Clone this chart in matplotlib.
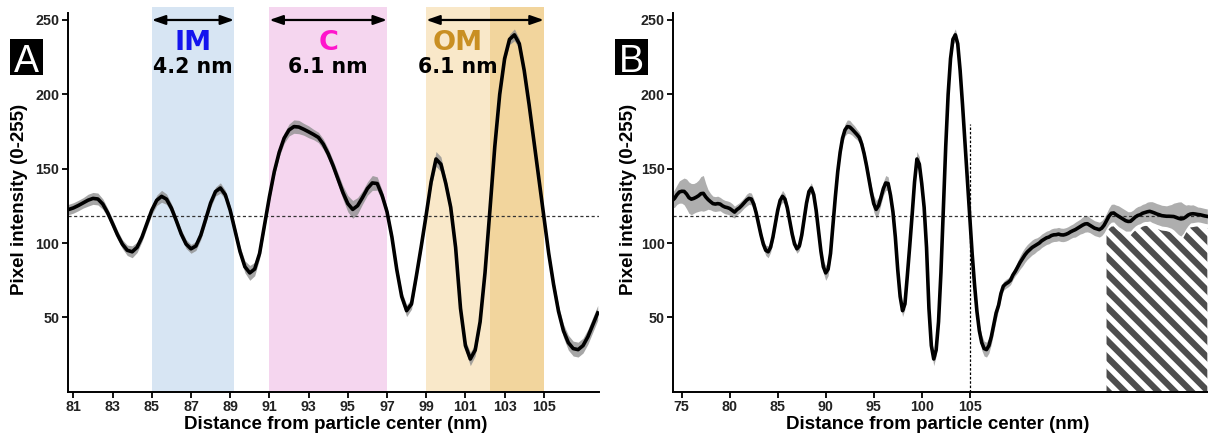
import numpy as np
import matplotlib
matplotlib.use('Agg')
import matplotlib.pyplot as plt
from matplotlib.patches import Rectangle

plt.rcParams['font.family'] = ['Liberation Sans', 'DejaVu Sans']
plt.rcParams['hatch.linewidth'] = 4.5

# intensity profile, window used in panel A (0.25 nm steps)
x_a = np.arange(80.75, 107.76, 0.25)
y_a = [122.5,
       123.6, 125.2, 127.0, 128.8,
       130.0, 129.6, 126.2, 120.3,
       113.0, 105.5, 99.2, 95.1,
       94.1, 97.1, 104.0, 113.1,
       122.1, 128.7, 131.4, 129.5,
       123.5, 115.0, 106.1, 99.3,
       96.1, 98.0, 105.3, 116.0,
       126.9, 134.6, 137.0, 132.5,
       122.0, 108.2, 94.3, 84.0,
       79.9, 82.5, 93.0, 112.0,
       131.0, 148.0, 161.0, 170.5,
       176.0, 178.3, 178.0, 176.5,
       174.8, 173.0, 171.0, 166.5,
       160.0, 152.0, 143.0, 134.0,
       126.5, 122.6, 125.1, 130.6,
       136.6, 140.4, 140.0, 132.0,
       121.0, 104.0, 82.0, 64.0,
       54.5, 59.0, 78.0, 98.0,
       119.0, 141.0, 156.5, 153.0,
       140.0, 124.0, 97.0, 56.0,
       31.0, 22.0, 28.0, 47.0,
       80.0, 122.0, 165.0, 200.0,
       224.0, 237.0, 240.0, 234.0,
       216.0, 193.0, 168.0, 143.0,
       118.0, 93.0, 72.0, 54.0,
       41.0, 33.0, 29.0, 28.3,
       31.0, 37.0, 45.0, 53.0]
sd_a = [3.5,
        3.5, 3.5, 3.5, 4,
        4, 4, 3.5, 3,
        3, 3, 3, 3.5,
        4, 3.5, 3, 3,
        3, 3.5, 4, 3.5,
        3, 3, 3, 3,
        3, 3, 3, 3,
        3, 3, 3.5, 3,
        3, 3, 3.5, 4,
        5, 4.5, 3.5, 3,
        3, 3, 3, 3.5,
        4, 4.5, 4.5, 4,
        4, 3.5, 3.5, 3.5,
        3.5, 3.5, 4, 4.5,
        5.5, 6, 5.5, 4.5,
        4.5, 5, 4.5, 3.5,
        3, 3, 3, 3.5,
        4, 3.5, 3, 3,
        3, 3.5, 5, 5,
        3.5, 3, 3, 3,
        3.5, 4.5, 4, 3,
        3, 3, 3, 3,
        3, 3.5, 4, 3.5,
        3, 3, 3, 3,
        3, 3, 3.5, 4,
        4.5, 5, 5, 5,
        5, 5, 5, 5]

# extra parts of the full profile shown in panel B
x_left = np.arange(74.0, 80.51, 0.25)
y_left = [128.5, 130.0, 132.5, 134.3,
          134.8, 134.7, 133.0, 130.5,
          129.5, 130.0, 130.8, 131.8,
          133.2, 133.4, 131.0, 129.2,
          127.8, 126.5, 126.2, 126.5,
          126.2, 125.0, 124.2, 123.8,
          123.2, 122.0, 120.8]
sd_left = [5, 6, 6.5, 7.5,
           8, 9, 10, 10.5,
           10.5, 10, 10, 10.5,
           11.5, 12, 9, 6.5,
           5.5, 5, 5, 5,
           4.5, 4.5, 4.5, 4.5,
           4.5, 4.5, 4]
x_right = np.arange(108.0, 129.76, 0.25)
y_right = [58.0, 66.0, 71.0, 72.5,
           73.5, 75.0, 78.5, 81.0,
           84.0, 87.0, 89.5, 92.0,
           94.0, 95.5, 97.0, 98.0,
           99.0, 100.0, 101.5, 102.5,
           103.5, 104.0, 105.0, 105.5,
           105.6, 106.0, 105.5, 105.4,
           105.8, 106.5, 107.5, 108.3,
           109.0, 110.0, 111.0, 112.0,
           112.8, 113.0, 112.0, 111.0,
           110.0, 109.5, 109.0, 110.0,
           112.0, 115.0, 118.0, 120.0,
           120.2, 119.0, 118.0, 117.0,
           116.0, 115.0, 114.5, 114.6,
           116.0, 117.5, 118.5, 119.0,
           120.0, 120.5, 121.0, 121.3,
           120.8, 120.2, 119.5, 119.0,
           118.4, 118.2, 118.0, 118.0,
           117.9, 117.8, 117.2, 116.6,
           116.2, 116.5, 117.5, 118.8,
           119.5, 119.7, 119.5, 119.2,
           119.0, 118.6, 118.2, 117.9]
sd_right = [3, 3, 3, 3, 3, 3, 3, 3,
            4, 4.5, 5, 5, 5, 5, 5, 5, 4.5, 4.5, 4.5, 4.5,
            4.5, 4.5, 4.5, 4.5, 4.5, 4.5, 4.5, 4.5, 4.5, 4.5, 4.5, 4.5,
            5, 5, 5, 5.5, 5.5, 5.5, 5, 5, 5, 5, 5, 5,
            5, 5, 5.5, 6, 6, 6.5, 7, 7, 7, 7, 6.5, 6.5,
            6, 6, 6, 6, 6, 6, 6.5, 6.5, 7, 7, 7, 7,
            7, 7, 7, 7.5, 8, 9, 10, 11, 11.5, 10, 8, 7,
            6, 6, 5.5, 5, 5, 5, 5, 5]

baseline = 118          # background intensity
cutoff_x = 105
cutoff_top = 180
hatch_start = 119.2

layers = ['IM', 'C', 'OM']
layer_lo = [85.0, 91.0, 99.0]
layer_hi = [89.2, 97.0, 105.0]
layer_nm = ['4.2 nm', '6.1 nm', '6.1 nm']
label_x = [87.1, 94.0, 100.6]
om_dark_lo = 102.25

band_colors = ['#d7e5f3', '#f5d6ef', '#f9e8c9']
label_colors = ['#1414ee', '#ff14cc', '#c98f22']

y_ticks = [50, 100, 150, 200, 250]
x_ticks_a = [81, 83, 85, 87, 89, 91, 93, 95, 97, 99, 101, 103, 105]
x_ticks_b = [75, 80, 85, 90, 95, 100, 105]

W, H = 1208, 441
fig = plt.figure(figsize=(W / 100, H / 100), dpi=100)
narrow = ['Liberation Sans Narrow', 'Liberation Sans', 'DejaVu Sans']


def style_axes(ax):
    for s in ['top', 'right']:
        ax.spines[s].set_visible(False)
    for s in ['left', 'bottom']:
        ax.spines[s].set_linewidth(1.4)
    ax.spines['left'].set_bounds(0, 254.5)
    ax.set_ylim(0, 259)
    ax.set_yticks(y_ticks)
    ax.tick_params(direction='out', length=4, width=1.3, pad=2,
                   labelsize=10.3, labelcolor='#222222')
    for lab in ax.get_xticklabels() + ax.get_yticklabels():
        lab.set_fontweight('bold')


def label_axes(ax, xl, yl):
    lab_font = dict(family=narrow, fontsize=13.5, fontweight='bold')
    ax.set_xlabel('Distance from particle center (nm)', **lab_font)
    ax.set_ylabel('Pixel intensity (0-255)', **lab_font)
    ax.xaxis.set_label_coords(xl, -0.064)
    ax.yaxis.set_label_coords(yl, 0.5)


# ---------------- panel A ----------------
axA = fig.add_axes([67.7 / W, 1 - 391.7 / H, 531 / W, 385.1 / H])
axA.set_xlim(80.71, 107.8)
for lo, hi, c in zip(layer_lo, layer_hi, band_colors):
    axA.axvspan(lo, hi, color=c, lw=0, zorder=0)
axA.axvspan(om_dark_lo, layer_hi[2], color='#f2d59d', lw=0, zorder=0)

ya = np.array(y_a)
sa = np.array(sd_a)
axA.fill_between(x_a, ya - sa, ya + sa, color='#909090', alpha=0.8, lw=0, zorder=2)
axA.plot(x_a, ya, color='black', lw=2.6, zorder=3, solid_joinstyle='round')
axA.axhline(baseline, color='#333333', lw=0.9, ls=(0, (2.5, 2)), zorder=2.5)

for lo, hi, name, nm, lx, c in zip(layer_lo, layer_hi, layers, layer_nm, label_x, label_colors):
    axA.annotate('', xy=(hi, 250), xytext=(lo, 250),
                 arrowprops=dict(arrowstyle='<|-|>,head_length=0.8,head_width=0.28',
                                 color='black', lw=1.6, shrinkA=0, shrinkB=0))
    axA.text(lx, 229.9, name, color=c, fontsize=19.5, fontweight='bold',
             family='DejaVu Sans', ha='center', va='baseline', zorder=4)
    axA.text(lx, 214.1, nm, color='black', fontsize=14.8, fontweight='bold',
             family='DejaVu Sans', ha='center', va='baseline', zorder=4)

axA.set_xticks(x_ticks_a)
style_axes(axA)
label_axes(axA, 0.504, -0.075)

# ---------------- panel B ----------------
axB = fig.add_axes([673.3 / W, 1 - 391.7 / H, 534.5 / W, 385.1 / H])
axB.set_xlim(74.12, 129.8)

x_b = np.concatenate([x_left, x_a, x_right])
y_b = np.concatenate([y_left, y_a, y_right])
s_b = np.concatenate([sd_left, sd_a, sd_right])

axB.fill_between(x_b, 0, y_b - s_b - 3, where=x_b >= hatch_start,
                 facecolor='white', edgecolor='#4d4d4d', hatch='\\\\', lw=0, zorder=1)
axB.fill_between(x_b, y_b - s_b, y_b + s_b, color='#9a9a9a', alpha=0.8, lw=0, zorder=2)
axB.plot(x_b, y_b, color='black', lw=2.6, zorder=3, solid_joinstyle='round')
axB.axhline(baseline, color='#333333', lw=0.9, ls=(0, (2.5, 2)), zorder=2.5)
axB.vlines(cutoff_x, 0, cutoff_top, color='black', lw=0.9, linestyles=(0, (2, 1.5)), zorder=2.5)

axB.set_xticks(x_ticks_b)
style_axes(axB)
label_axes(axB, 0.495, -0.068)

# panel letters: white letter in a black square
for left, letter in [(10, 'A'), (615, 'B')]:
    fig.patches.append(Rectangle((left / W, 1 - 75 / H), 33 / W, 36 / H,
                                 transform=fig.transFigure, facecolor='black',
                                 edgecolor='none'))
    fig.text((left + 16.5) / W, 1 - 57.5 / H, letter, color='white', fontsize=27,
             family=narrow, ha='center', va='center_baseline')

fig.savefig('out.png', dpi=100)
